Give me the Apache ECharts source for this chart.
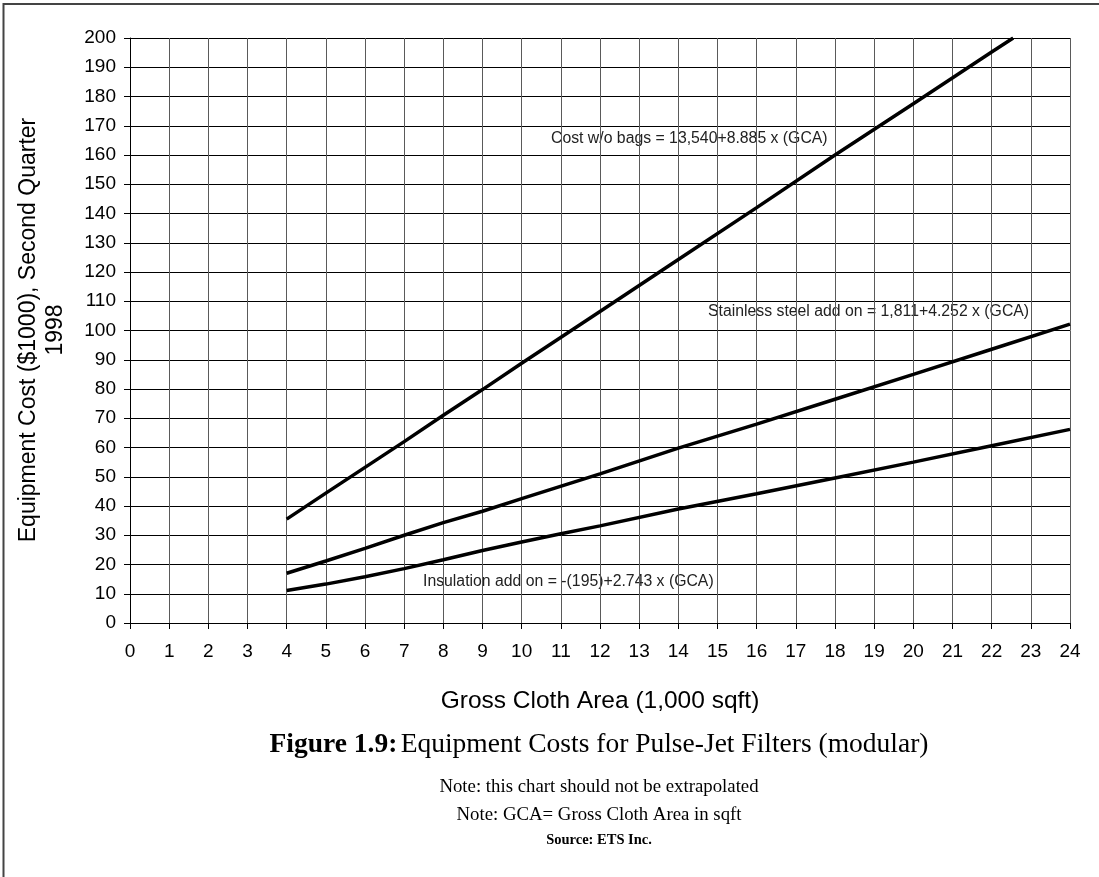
<!DOCTYPE html>
<html>
<head>
<meta charset="utf-8">
<script src="https://cdn.jsdelivr.net/npm/echarts@6/dist/echarts.min.js"></script>
<style>html,body{margin:0;padding:0;background:#fff}#c{width:1099px;height:877px}</style>
</head>
<body>
<div id="c"></div>
<script>
var xTicks = [0,1,2,3,4,5,6,7,8,9,10,11,12,13,14,15,16,17,18,19,20,21,22,23,24];
var costWoBags = [[4,35.5],[5,44.4],[6,53.2],[7,62],[8,71],[9,79.8],[10,88.8],[12,106.5],[14,124.3],[16,142],[18,160],[20,177.5],[22,195.2],[22.55,200]];
var stainless = [[4,17],[5,21.2],[6,25.5],[7,30],[8,34.3],[9,38.2],[10,42.5],[12,51],[14,59.8],[16,68],[18,76.5],[20,85],[22,93.6],[24,102.2]];
var insulation = [[4,11.1],[5,13.3],[6,15.8],[7,18.6],[8,21.6],[9,24.8],[10,27.7],[11,30.5],[12,33.2],[14,39],[16,44.2],[18,49.6],[20,55],[22,60.6],[24,66.2]];
var labels = {
  cost: 'Cost w/o bags = 13,540+8.885 x (GCA)',
  stainless: 'Stainless steel add on = 1,811+4.252 x (GCA)',
  insulation: 'Insulation add on = -(195)+2.743 x (GCA)'
};
var chart = echarts.init(document.getElementById('c'));
function lineSeries(name, data){
  return {name:name,type:'line',data:data,showSymbol:false,symbol:'none',
    lineStyle:{color:'#000',width:3.5},clip:true,animation:false};
}
var annFont = {fontFamily:'Liberation Sans, Arial',fontSize:15.8,fill:'#222'};
chart.setOption({
  animation:false,
  grid:{left:130,right:29,top:38,bottom:254,containLabel:false},
  xAxis:{type:'value',min:0,max:24,interval:1,
    name:'Gross Cloth Area (1,000 sqft)',nameLocation:'middle',nameGap:66,
    nameTextStyle:{fontFamily:'Liberation Sans, Arial',fontSize:24.5,color:'#000'},
    axisLine:{show:true,onZero:false,lineStyle:{color:'#000',width:1}},
    axisTick:{show:true,length:6,lineStyle:{color:'#000'}},
    axisLabel:{fontFamily:'Liberation Sans, Arial',fontSize:19,color:'#000',margin:19,
      formatter:function(v){return xTicks.indexOf(v)>=0?String(v):'';}},
    splitLine:{show:true,lineStyle:{color:'#5a5a5a',width:1}}},
  yAxis:{type:'value',min:0,max:200,interval:10,
    axisLine:{show:true,lineStyle:{color:'#000',width:1}},
    axisTick:{show:true,length:6,lineStyle:{color:'#000'}},
    axisLabel:{fontFamily:'Liberation Sans, Arial',fontSize:19,color:'#000',margin:14},
    splitLine:{show:true,lineStyle:{color:'#000',width:1}}},
  series:[lineSeries('Cost w/o bags',costWoBags),lineSeries('Stainless steel add on',stainless),lineSeries('Insulation add on',insulation)],
  graphic:[
    {type:'polyline',shape:{points:[[3.5,877],[3.5,4],[1099,4]]},style:{stroke:'#444',lineWidth:2,fill:null},silent:true},
    {type:'text',x:42,y:330,rotation:Math.PI/2,style:{text:'Equipment Cost ($1000), Second Quarter\n1998',
      fontFamily:'Liberation Sans, Arial',fontSize:23,lineHeight:27,fill:'#000',align:'center',verticalAlign:'middle'}},
    {type:'text',x:551,y:139,style:Object.assign({text:labels.cost,align:'left',verticalAlign:'middle'},annFont)},
    {type:'text',x:708,y:312,style:Object.assign({text:labels.stainless,align:'left',verticalAlign:'middle'},annFont)},
    {type:'text',x:423,y:582,style:Object.assign({text:labels.insulation,align:'left',verticalAlign:'middle'},annFont)},
    {type:'text',x:599,y:745,style:{text:'{b|Figure 1.9:} {n|Equipment Costs for Pulse-Jet Filters (modular)}',align:'center',verticalAlign:'middle',
      rich:{b:{fontFamily:'Liberation Serif, Times New Roman',fontWeight:'bold',fontSize:27.5,fill:'#000'},
            n:{fontFamily:'Liberation Serif, Times New Roman',fontSize:27.5,fill:'#000'}}}},
    {type:'text',x:599,y:787,style:{text:'Note: this chart should not be extrapolated',align:'center',verticalAlign:'middle',fontFamily:'Liberation Serif, Times New Roman',fontSize:18.8,fill:'#000'}},
    {type:'text',x:599,y:815,style:{text:'Note: GCA= Gross Cloth Area in sqft',align:'center',verticalAlign:'middle',fontFamily:'Liberation Serif, Times New Roman',fontSize:18.8,fill:'#000'}},
    {type:'text',x:599,y:840,style:{text:'Source: ETS Inc.',align:'center',verticalAlign:'middle',fontFamily:'Liberation Serif, Times New Roman',fontWeight:'bold',fontSize:14.5,fill:'#000'}}
  ]
});
</script>
</body>
</html>
